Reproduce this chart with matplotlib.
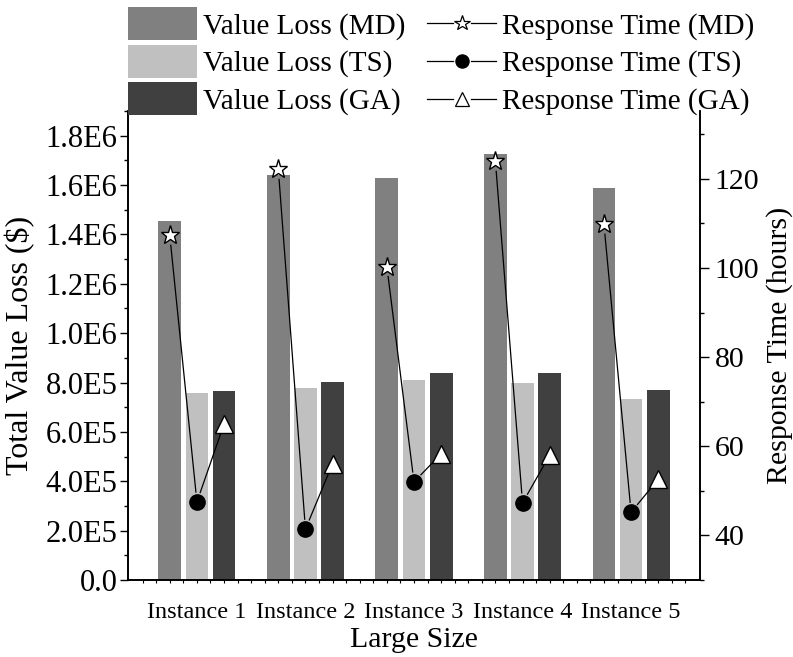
import numpy as np
import matplotlib
matplotlib.use("Agg")
import matplotlib.pyplot as plt
from matplotlib.lines import Line2D
from matplotlib.patches import Patch
from matplotlib.legend_handler import HandlerBase
from matplotlib.ticker import MultipleLocator, FixedLocator

plt.rcParams['font.family'] = ['Liberation Serif', 'DejaVu Serif']

categories = ['Instance 1', 'Instance 2', 'Instance 3', 'Instance 4', 'Instance 5']
loss_md = [1.455e6, 1.640e6, 1.627e6, 1.727e6, 1.587e6]
loss_ts = [0.756e6, 0.779e6, 0.812e6, 0.800e6, 0.733e6]
loss_ga = [0.766e6, 0.804e6, 0.837e6, 0.837e6, 0.769e6]
rt_md = [107.3, 122.1, 100.3, 123.9, 109.8]
rt_ts = [47.5, 41.4, 52.0, 47.3, 45.2]
rt_ga = [65.0, 56.1, 58.3, 58.0, 52.6]
yticks_left = [0.0, 2e5, 4e5, 6e5, 8e5, 1e6, 1.2e6, 1.4e6, 1.6e6, 1.8e6]
yticklabels_left = ['0.0', '2.0E5', '4.0E5', '6.0E5', '8.0E5', '1.0E6',
                    '1.2E6', '1.4E6', '1.6E6', '1.8E6']
yticks_right = [40, 60, 80, 100, 120]

c_md, c_ts, c_ga = '#808080', '#c0c0c0', '#404040'

W, H = 793, 657
fig = plt.figure(figsize=(W / 100, H / 100), dpi=100)
L, R, B, T = 128, 700, 580, 111
ax = fig.add_axes([L / W, 1 - B / H, (R - L) / W, (B - T) / H])
ax2 = ax.twinx()

x = np.arange(1, len(categories) + 1)
off = 0.25
bw = 0.21
ax.bar(x - off, loss_md, bw, color=c_md, edgecolor='none')
ax.bar(x, loss_ts, bw, color=c_ts, edgecolor='none')
ax.bar(x + off, loss_ga, bw, color=c_ga, edgecolor='none')

ax.set_xlim(0.365, 5.635)
ax.set_ylim(0, 1.9e6)
ax2.set_ylim(30, 135.2)

# connecting lines (per instance: MD -> TS -> GA) with gaps near markers
gap = 10.0
for i in range(len(categories)):
    xs = [x[i] - off, x[i], x[i] + off]
    ys = [rt_md[i], rt_ts[i], rt_ga[i]]
    pts = ax2.transData.transform(np.column_stack([xs, ys]))
    for j in range(2):
        p0, p1 = pts[j], pts[j + 1]
        d = p1 - p0
        n = np.hypot(*d)
        u = d / n
        a = p0 + u * gap
        b = p1 - u * gap
        seg = ax2.transData.inverted().transform(np.vstack([a, b]))
        ax2.plot(seg[:, 0], seg[:, 1], color='black', lw=0.9, zorder=3)

ax2.plot(x - off, rt_md, linestyle='none', marker='*', markersize=14,
         markerfacecolor='white', markeredgecolor='black', markeredgewidth=1.0, zorder=4)
ax2.plot(x, rt_ts, linestyle='none', marker='o', markersize=11,
         markerfacecolor='black', markeredgecolor='black', zorder=4)
ax2.plot(x + off, rt_ga, linestyle='none', marker='^', markersize=13,
         markerfacecolor='white', markeredgecolor='black', markeredgewidth=1.0, zorder=4)

# spines
for a in (ax, ax2):
    a.spines['top'].set_visible(False)
    for s in ('left', 'right', 'bottom'):
        a.spines[s].set_linewidth(1.2)

# left axis ticks
ax.set_yticks(yticks_left)
ax.set_yticklabels(yticklabels_left)
ax.yaxis.set_minor_locator(MultipleLocator(1e5))
ax.tick_params(axis='y', which='major', direction='out', length=6, width=1.0,
               labelsize=22, pad=1.5)
ax.tick_params(axis='y', which='minor', direction='out', length=3, width=1.0)

# x axis
ax.set_xticks(x)
ax.set_xticklabels(categories)
ax.xaxis.set_minor_locator(FixedLocator(np.arange(0.5, 5.51, 0.125)))
ax.tick_params(axis='x', which='both', direction='out', length=2, width=0.8,
               labelsize=17.5, pad=13.5)

# right axis
ax2.set_yticks(yticks_right)
ax2.yaxis.set_minor_locator(MultipleLocator(10))
ax2.tick_params(axis='y', which='major', direction='out', length=6.5, width=1.0,
                labelsize=21.5, pad=4)
ax2.tick_params(axis='y', which='minor', direction='out', length=3, width=1.0)

# labels
ax.set_ylabel('Total Value Loss ($)', fontsize=23)
ax.yaxis.set_label_coords((20 - L) / (R - L), 0.5)
ax.yaxis.label.set_verticalalignment('center')
ax2.set_ylabel('Response Time (hours)', fontsize=21.5)
ax2.yaxis.set_label_coords((780 - L) / (R - L), 0.5)
ax2.yaxis.label.set_verticalalignment('center')
ax.set_xlabel('Large Size', fontsize=21.5)
ax.xaxis.set_label_coords(0.5, (B - 640) / (B - T))
ax.xaxis.label.set_verticalalignment('center')


class GapLineHandler(HandlerBase):
    def __init__(self, marker, ms, mfc, g=6.5):
        super().__init__()
        self.marker, self.ms, self.mfc, self.g = marker, ms, mfc, g

    def create_artists(self, legend, orig_handle, xdescent, ydescent, width,
                       height, fontsize, trans):
        y = height / 2 - ydescent
        x0 = -xdescent
        xm = x0 + width / 2
        l1 = Line2D([x0, xm - self.g], [y, y], color='black', lw=0.9)
        l2 = Line2D([xm + self.g, x0 + width], [y, y], color='black', lw=0.9)
        m = Line2D([xm], [y], marker=self.marker, markersize=self.ms,
                   markerfacecolor=self.mfc, markeredgecolor='black',
                   markeredgewidth=0.9, linestyle='none')
        for art in (l1, l2, m):
            art.set_transform(trans)
        return [l1, l2, m]


h_md = Patch(facecolor=c_md, edgecolor='none')
h_ts = Patch(facecolor=c_ts, edgecolor='none')
h_ga = Patch(facecolor=c_ga, edgecolor='none')
l_md = Line2D([], [], marker='*')
l_ts = Line2D([], [], marker='o')
l_ga = Line2D([], [], marker='^')
handles = [h_md, h_ts, h_ga, l_md, l_ts, l_ga]
labels = ['Value Loss (MD)', 'Value Loss (TS)', 'Value Loss (GA)',
          'Response Time (MD)', 'Response Time (TS)', 'Response Time (GA)']
fig.legend(handles, labels, ncol=2, loc='upper left',
           bbox_to_anchor=(128 / W, 1 - 7 / H), frameon=False,
           fontsize=21, handlelength=2.37, handleheight=1.362,
           labelspacing=0.16, handletextpad=0.2, columnspacing=0.75,
           borderpad=0, borderaxespad=0,
           handler_map={l_md: GapLineHandler('*', 11.5, 'white'),
                        l_ts: GapLineHandler('o', 9.5, 'black'),
                        l_ga: GapLineHandler('^', 10.5, 'white')})

fig.savefig('out.png', dpi=100)
